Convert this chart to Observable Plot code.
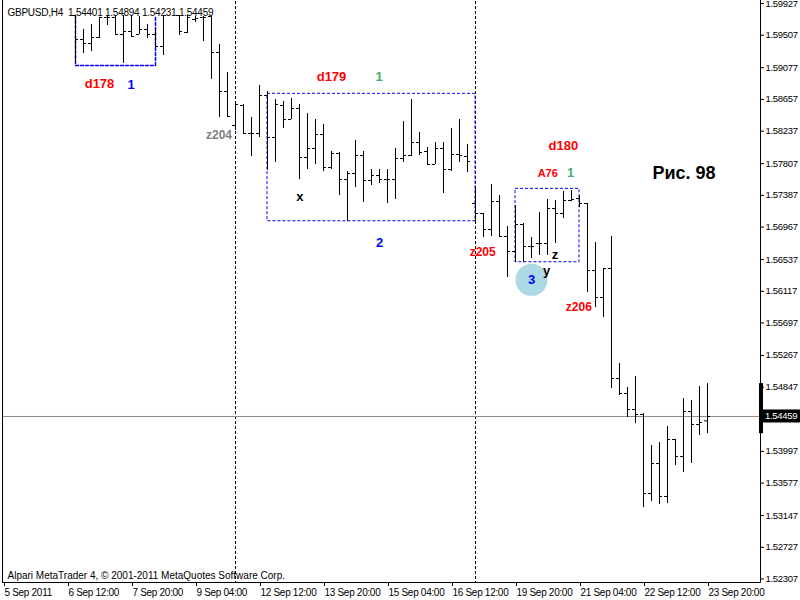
<!DOCTYPE html>
<html><head><meta charset="utf-8">
<script src="https://cdn.jsdelivr.net/npm/d3@7"></script>
<script src="https://cdn.jsdelivr.net/npm/@observablehq/plot@0.6"></script>
<style>html,body{margin:0;padding:0;background:#fff;overflow:hidden}</style>
</head><body><div id="chart"></div>
<script>
// ---- data (GBPUSD H4, bar index 0 = 5 Sep 2011 04:00) ----
const barIndex = [9,10,11,12,13,14,15,16,17,18,19,20,22,23,24,25,26,27,28,29,30,31,32,33,34,35,36,37,38,39,40,41,42,43,44,45,46,47,48,49,50,51,52,53,54,55,56,57,58,59,60,61,62,63,64,65,66,67,68,69,70,71,72,73,74,75,76,77,78,79,80,81,82,83,84,85,86,87,88];
const opens  = [1.59768,1.59450,1.59397,1.59477,1.59742,1.59742,1.59517,1.59556,1.59517,1.59583,1.59517,1.59358,1.59768,1.59543,1.59715,1.59742,1.59755,1.59278,1.58762,1.58312,1.58576,1.58206,1.58206,1.58709,1.58153,1.58576,1.58391,1.58537,1.57888,1.58007,1.58192,1.57755,1.57941,1.57596,1.57676,1.57914,1.57583,1.57649,1.57596,1.57596,1.57875,1.57914,1.58086,1.57967,1.57795,1.58007,1.57729,1.57928,1.57901,1.57279,1.57146,1.56934,1.57305,1.56842,1.56643,1.57001,1.56709,1.56749,1.56749,1.57212,1.57146,1.57318,1.57345,1.57279,1.56391,1.56034,1.56418,1.54961,1.54763,1.54551,1.54485,1.53438,1.53836,1.53399,1.54154,1.53928,1.54524,1.54352,1.54401];
const highs  = [1.59768,1.59583,1.59649,1.59742,1.59768,1.59768,1.59768,1.59768,1.59755,1.59649,1.59583,1.59768,1.59768,1.59768,1.59755,1.59755,1.59755,1.59384,1.59013,1.58603,1.58590,1.58417,1.58841,1.58762,1.58656,1.58629,1.58669,1.58590,1.58470,1.58391,1.58325,1.57967,1.57954,1.57702,1.58113,1.57967,1.57729,1.57729,1.57729,1.58007,1.58364,1.58656,1.58219,1.58020,1.58086,1.58086,1.58272,1.58391,1.58060,1.57464,1.57146,1.57530,1.57385,1.56974,1.57252,1.57014,1.56828,1.57159,1.57332,1.57318,1.57438,1.57451,1.57385,1.57279,1.56762,1.56418,1.56842,1.55160,1.54842,1.54988,1.54498,1.54074,1.54114,1.54326,1.54154,1.54696,1.54670,1.54855,1.54894];
const lows   = [1.59146,1.59265,1.59291,1.59464,1.59636,1.59517,1.59133,1.59490,1.59517,1.59464,1.59344,1.59238,1.59503,1.59530,1.59675,1.59424,1.58921,1.58417,1.58417,1.58245,1.58206,1.57901,1.58153,1.57716,1.57822,1.58272,1.58391,1.57596,1.57729,1.57795,1.57702,1.57729,1.57385,1.57040,1.57491,1.57292,1.57517,1.57543,1.57279,1.57332,1.57822,1.57901,1.57914,1.57795,1.57795,1.57411,1.57702,1.57822,1.57689,1.57027,1.56828,1.56842,1.56842,1.56299,1.56497,1.56497,1.56550,1.56590,1.56590,1.56749,1.57080,1.57305,1.57226,1.56100,1.55901,1.55769,1.54829,1.54736,1.54445,1.54365,1.53253,1.53332,1.53293,1.53306,1.53809,1.53717,1.53836,1.54207,1.54231];
const closes = [1.59450,1.59397,1.59477,1.59742,1.59742,1.59517,1.59556,1.59490,1.59583,1.59517,1.59358,1.59768,1.59556,1.59742,1.59728,1.59742,1.59278,1.58762,1.58431,1.58590,1.58206,1.58206,1.58709,1.58153,1.58590,1.58391,1.58537,1.57888,1.58007,1.58192,1.57755,1.57941,1.57596,1.57676,1.57914,1.57583,1.57649,1.57596,1.57596,1.57875,1.57914,1.58086,1.57954,1.57795,1.58007,1.57729,1.57928,1.57914,1.57835,1.57146,1.56934,1.57305,1.56842,1.56643,1.57001,1.56709,1.56709,1.56749,1.57212,1.57146,1.57318,1.57332,1.57279,1.56391,1.56034,1.56418,1.54961,1.54763,1.54551,1.54485,1.53438,1.53836,1.53399,1.54154,1.53928,1.54524,1.54352,1.54379,1.54459];

const xTickIndex  = [0,8,16,24,32,40,48,56,64,72,80,88];
const xTickLabels = ["5 Sep 2011","6 Sep 12:00","7 Sep 20:00","9 Sep 04:00","12 Sep 12:00","13 Sep 20:00","15 Sep 04:00","16 Sep 12:00","19 Sep 20:00","21 Sep 04:00","22 Sep 12:00","23 Sep 20:00"];
const yTicks = [1.59927,1.59507,1.59077,1.58657,1.58237,1.57807,1.57387,1.56967,1.56537,1.56117,1.55697,1.55267,1.54847,1.53997,1.53577,1.53147,1.52727,1.52307];
const weekSeparators = [29, 59];
const lastPrice = 1.54459;
const headerText = "GBPUSD,H4  1.54401 1.54894 1.54231 1.54459";
const footerText = "Alpari MetaTrader 4, © 2001-2011 MetaQuotes Software Corp.";

// rectangles drawn on the chart (bar index / price)
const boxLeft   = [9, 33, 64];
const boxRight  = [19, 59, 72];
const boxTop    = [1.59768, 1.58731, 1.57473];
const boxBottom = [1.59106, 1.57044, 1.56501];

// text annotations (bar index / price)
const noteText  = ["d178","1","z204","d179","1","x","2","z205","d180","A76","1","z","y","3","z206","Рис. 98"];
const noteIndex = [12, 15.94, 26.94, 41, 46.96, 37.06, 47, 59.9, 69.98, 68.03, 70.9, 68.94, 67.9, 66, 71.92, 85.06];
const notePrice = [1.58857,1.58854,1.58186,1.58951,1.58956,1.57365,1.56762,1.56639,1.58037,1.57676,1.57686,1.56594,1.56381,1.56268,1.55911,1.57683];
const noteKind  = ["red","blue","grey","red","green","black","blue","redMid","red","redSmall","green","black","black","blue","redMid","title"];
const circleIndex = 66, circlePrice = 1.56268;

// ---- build ----
const bars = barIndex.map((k,i)=>({k, open:opens[i], high:highs[i], low:lows[i], close:closes[i]}));
const notes = noteText.map((t,i)=>({text:t, k:noteIndex[i], p:notePrice[i], kind:noteKind[i]}));
const labelOf = new Map(xTickIndex.map((k,i)=>[k, xTickLabels[i]]));
const boxes = boxLeft.map((l,i)=>({x1:l, x2:boxRight[i], y1:boxBottom[i], y2:boxTop[i]}));
const openBox = [{k:boxes[0].x1,p:boxes[0].y2},{k:boxes[0].x1,p:boxes[0].y1},{k:boxes[0].x2,p:boxes[0].y1},{k:boxes[0].x2,p:boxes[0].y2}];
const tickLen = 0.375;
const FONT = "Liberation Sans, Arial, sans-serif";
const noteStyle = {
  red:{fill:"#ff0000", size:13}, redMid:{fill:"#ff0000", size:12}, redSmall:{fill:"#ff0000", size:11},
  blue:{fill:"#0000ff", size:13}, grey:{fill:"#808080", size:12}, green:{fill:"#3cb371", size:13},
  black:{fill:"#000000", size:13}, title:{fill:"#000000", size:18}
};
const noteMarks = Object.entries(noteStyle).map(([kind,s]) =>
  Plot.text(notes.filter(n=>n.kind===kind), {x:"k", y:"p", text:"text", fill:s.fill, fontSize:s.size, fontWeight:"bold", fontFamily:FONT}));

const chart = Plot.plot({
  width: 800, height: 600,
  marginLeft: 2, marginRight: 40, marginTop: 1, marginBottom: 18,
  x: {domain: [0, 88], range: [3, 707]},
  y: {domain: [1.52307, 1.59927], range: [578.5, 3]},
  style: {fontFamily: FONT, fontSize: "10px", background: "#fff", color: "#000"},
  marks: [
    Plot.ruleX(weekSeparators, {stroke:"#000", strokeDasharray:"3,2"}),
    Plot.rect(boxes.slice(1), {x1:"x1", x2:"x2", y1:"y1", y2:"y2", fill:"none", stroke:"#0000ff", strokeDasharray:"3,2"}),
    Plot.line(openBox, {x:"k", y:"p", stroke:"#0000ff", strokeDasharray:"3,2"}),
    Plot.ruleY([lastPrice], {stroke:"#888"}),
    Plot.ruleX(bars, {x:"k", y1:"low", y2:"high", stroke:"#000"}),
    Plot.ruleY(bars, {y:"open", x1:d=>d.k-tickLen, x2:"k", stroke:"#000"}),
    Plot.ruleY(bars, {y:"close", x1:"k", x2:d=>d.k+tickLen, stroke:"#000"}),
    Plot.dot([{k:circleIndex, p:circlePrice}], {x:"k", y:"p", r:16, fill:"#add8e6", stroke:"none"}),
    ...noteMarks,
    Plot.axisX(xTickIndex, {anchor:"bottom", tickSize:4, tickPadding:2, textAnchor:"start", dx:1, tickFormat:d=>labelOf.get(d), label:null}),
    Plot.axisY(yTicks, {anchor:"right", tickSize:3, tickPadding:2, textAnchor:"start", fontSize:9.5, tickFormat:d=>d.toFixed(5), label:null}),
    Plot.text([headerText], {text:d=>d, frameAnchor:"top-left", textAnchor:"start", lineAnchor:"bottom", dx:5, dy:14, fontSize:10}),
    Plot.text([footerText], {text:d=>d, frameAnchor:"bottom-left", textAnchor:"start", lineAnchor:"bottom", dx:5, dy:-4, fontSize:10})
  ]
});
document.getElementById("chart").appendChild(chart);

const svg = d3.select(chart);
svg.selectAll('[aria-label="y-axis tick label"] text, [aria-label="x-axis tick label"] text').attr("letter-spacing", "-0.3");
svg.selectAll("text").filter(function(){ return this.textContent === headerText; }).attr("letter-spacing", "-0.25");

// frame lines, current-price marker on the price axis
const ys = chart.scale("y");
const g = svg.append("g").attr("text-anchor", "start");
g.append("line").attr("x1",2.5).attr("x2",2.5).attr("y1",0).attr("y2",582.5).attr("stroke","#000");
g.append("line").attr("x1",2).attr("x2",760.5).attr("y1",582.5).attr("y2",582.5).attr("stroke","#000");
g.append("line").attr("x1",760.5).attr("x2",760.5).attr("y1",0).attr("y2",582.5).attr("stroke","#000");
const last = bars[bars.length-1];
g.append("rect").attr("x",759).attr("width",4).attr("y",ys.apply(last.high)).attr("height",ys.apply(last.low)-ys.apply(last.high)).attr("fill","#000");
const yp = ys.apply(lastPrice);
g.append("rect").attr("x",761).attr("width",39).attr("y",yp-6.5).attr("height",13).attr("fill","#000");
g.append("text").attr("x",765).attr("y",yp+3.5).attr("fill","#fff").attr("font-family",FONT).attr("font-size",9.5).attr("letter-spacing","-0.3").text(lastPrice.toFixed(5));
</script></body></html>
